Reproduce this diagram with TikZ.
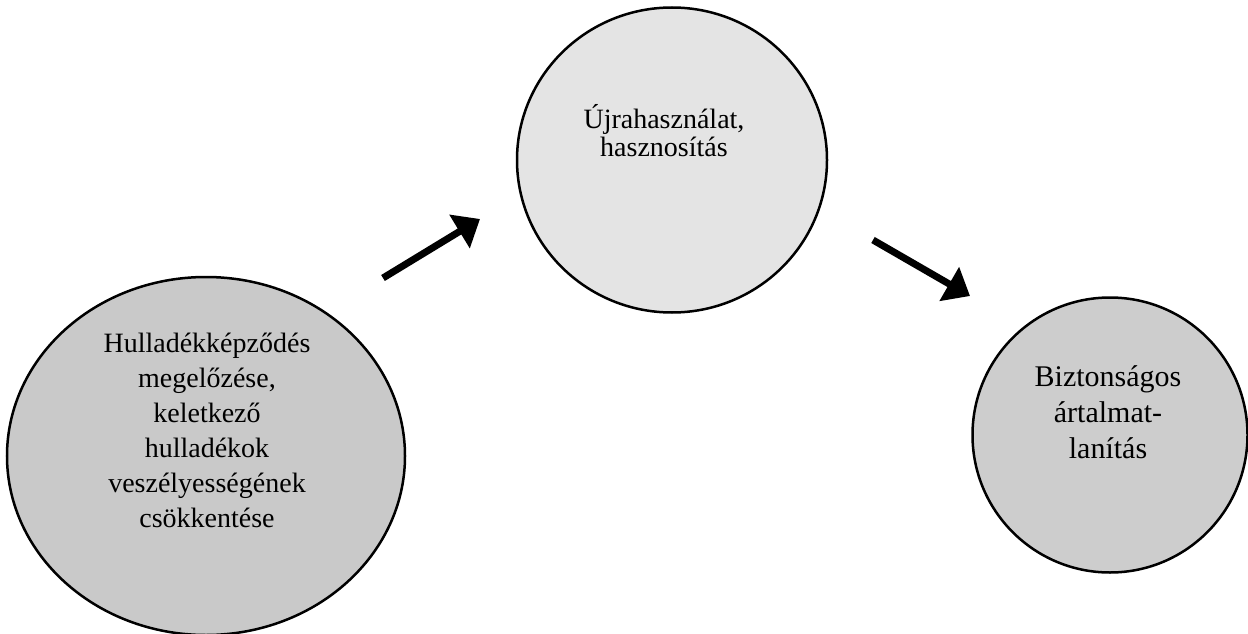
\documentclass[tikz,border=0pt]{standalone}
\usepackage{fontspec}
\setmainfont{Liberation Serif}
\usetikzlibrary{arrows.meta,shapes.geometric}
\definecolor{fillA}{HTML}{C9C9C9}
\definecolor{fillB}{HTML}{E4E4E4}
\definecolor{fillC}{HTML}{CDCDCD}
\tikzset{
  blob/.style={ellipse, draw=black, line width=2.5pt, inner sep=0pt},
  label/.style={inner sep=0pt, align=center, text=black},
  flow/.style={line width=7pt, -{Triangle[length=24pt, width=38pt]}}
}
\begin{document}
\begin{tikzpicture}[x=1pt,y=-1pt]
\useasboundingbox (0,0) rectangle (1248,634);
% circles
\node[blob, fill=fillA, minimum width=398pt, minimum height=358pt] (prev) at (206,456) {};
\node[blob, fill=fillB, minimum width=310pt, minimum height=305pt] (reuse) at (672,160) {};
\node[blob, fill=fillC, minimum width=275pt, minimum height=275pt] (safe) at (1110,435) {};
% texts
\node[label, font=\fontsize{28}{35}\selectfont] (prevtext) at (207,430)
  {Hulladékképződés\\megelőzése,\\keletkező\\hulladékok\\veszélyességének\\csökkentése};
\node[label, font=\fontsize{28}{28}\selectfont] (reusetext) at (664,131)
  {Újrahasználat,\\hasznosítás};
\node[label, font=\fontsize{30}{36}\selectfont] (safetext) at (1108,412)
  {Biztonságos\\ártalmat-\\lanítás};
% arrows
\coordinate (a1s) at (383,278);
\coordinate (a1e) at (480,219);
\coordinate (a2s) at (873,240);
\coordinate (a2e) at (970,296);
\draw[flow] (a1s) -- (a1e);
\draw[flow] (a2s) -- (a2e);
\end{tikzpicture}
\end{document}
